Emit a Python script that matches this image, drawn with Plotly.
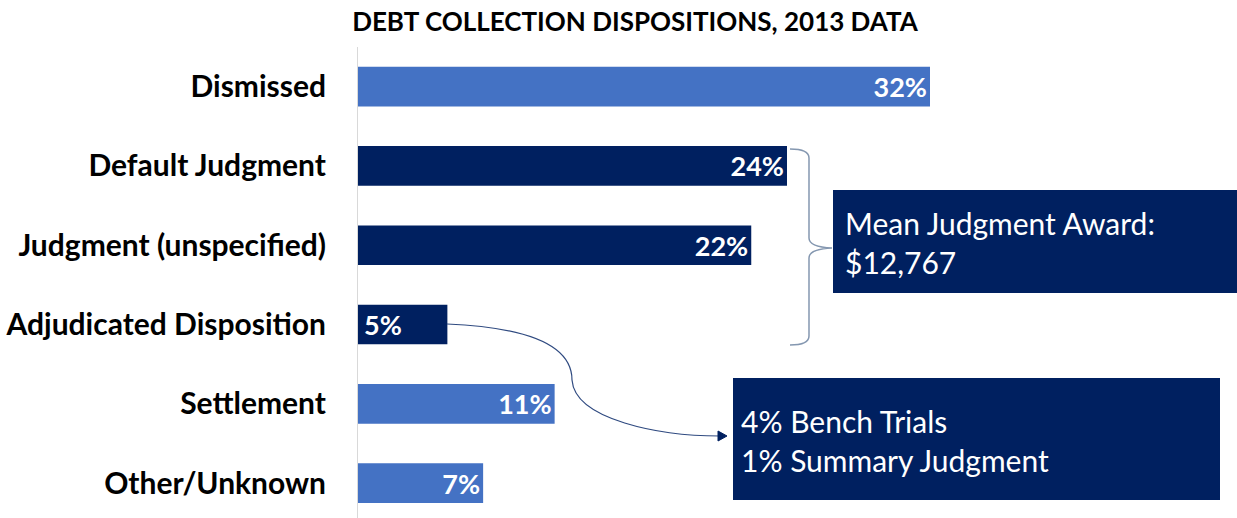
'''
    Horizontal bar chart of debt collection dispositions (2013 data).
'''
import plotly.graph_objects as go

categories = ['Dismissed', 'Default Judgment', 'Judgment (unspecified)',
              'Adjudicated Disposition', 'Settlement', 'Other/Unknown']
shares = [32, 24, 22, 5, 11, 7]
is_judgment = [False, True, True, True, False, False]

judgment_note = 'Mean Judgment Award:<br>$12,767'
adjudicated_note = '4% Bench Trials<br>1% Summary Judgment'

LIGHT = '#4472C4'
NAVY = '#002060'
W, H = 1237, 518
L, T = 358, 47


def px(x, y):
      # pixel position on the page -> paper coordinates of the plot area
      return (x - L) / (W - L), 1 - (y - T) / (H - T)


def pt(x, y):
      a, b = px(x, y)
      return f'{a:.5f},{b:.5f}'


# the short bar keeps its label at the start, the others at the end
short = [v < 6 for v in shares]

fig = go.Figure()

fig.add_trace(go.Bar(
      x=shares,
      y=categories,
      orientation='h',
      width=0.5,
      marker=dict(color=[NAVY if j else LIGHT for j in is_judgment], line=dict(width=0)),
      text=['' if s else f'{v}%' for v, s in zip(shares, short)],
      textposition='inside',
      insidetextanchor='end',
      textfont=dict(color='white', size=27, family='Lato', weight='bold'),
      hoverinfo='skip'
))

shapes = []

# callout boxes
x0, y0 = px(833, 190)
x1, y1 = px(1237, 293)
shapes.append(dict(type='rect', xref='paper', yref='paper', x0=x0, y0=y0, x1=x1, y1=y1,
                   fillcolor=NAVY, line=dict(width=0), layer='above'))
x0, y0 = px(733, 378)
x1, y1 = px(1220, 500)
shapes.append(dict(type='rect', xref='paper', yref='paper', x0=x0, y0=y0, x1=x1, y1=y1,
                   fillcolor=NAVY, line=dict(width=0), layer='above'))

# curly brace around the judgment bars
brace = (f'M {pt(790, 149)} Q {pt(809, 149)} {pt(809, 158)} '
         f'L {pt(809, 238)} Q {pt(809, 247)} {pt(832, 248)} '
         f'Q {pt(809, 249)} {pt(809, 258)} '
         f'L {pt(809, 336)} Q {pt(809, 345)} {pt(790, 345)}')
shapes.append(dict(type='path', xref='paper', yref='paper', path=brace,
                   line=dict(color='#8497B0', width=1.5)))

# connector from adjudicated bar to the breakdown box
curve = (f'M {pt(447, 324)} C {pt(540, 328)} {pt(572, 350)} {pt(572, 380)} '
         f'C {pt(575, 420)} {pt(660, 436)} {pt(720, 436)}')
shapes.append(dict(type='path', xref='paper', yref='paper', path=curve,
                   line=dict(color='#2F4A80', width=1.2)))
arrow = f'M {pt(718, 431)} L {pt(727, 436)} L {pt(718, 441)} Z'
shapes.append(dict(type='path', xref='paper', yref='paper', path=arrow,
                   fillcolor=NAVY, line=dict(color=NAVY, width=1)))

annotations = []
for cat, v, s in zip(categories, shares, short):
      if s:
            annotations.append(dict(x=0, y=cat, xref='x', yref='y', xanchor='left', xshift=4,
                                    text=f'{v}%', showarrow=False,
                                    font=dict(color='white', size=27, family='Lato', weight='bold')))

ax, ay = px(843, 242)
annotations.append(dict(xref='paper', yref='paper', x=ax, y=ay, xanchor='left', yanchor='middle',
                        text=judgment_note, showarrow=False, align='left',
                        font=dict(color='white', size=30, family='Lato')))
ax, ay = px(739, 440)
annotations.append(dict(xref='paper', yref='paper', x=ax, y=ay, xanchor='left', yanchor='middle',
                        text=adjudicated_note, showarrow=False, align='left',
                        font=dict(color='white', size=30, family='Lato')))

fig.update_layout(
      width=W,
      height=H,
      margin=dict(l=L, r=0, t=T, b=0),
      plot_bgcolor='white',
      paper_bgcolor='white',
      showlegend=False,
      title=dict(text='<b>DEBT COLLECTION DISPOSITIONS, 2013 DATA</b>',
                 x=635 / W, xanchor='center', y=1 - 22 / H, yanchor='middle',
                 font=dict(size=26, color='black', family='Lato')),
      xaxis=dict(range=[0, (W - L) / 17.875], visible=False, fixedrange=True),
      yaxis=dict(range=[5.44, -0.5], showgrid=False, showline=True, linecolor='#D9D9D9',
                 linewidth=1, ticks='', ticklabelstandoff=25, fixedrange=True,
                 tickfont=dict(size=30, color='black', family='Lato', weight='bold')),
      shapes=shapes,
      annotations=annotations,
      font_family='Lato'
)

fig.write_html('out.html', config={'displayModeBar': False},
               post_script="document.body.style.margin='0';")
